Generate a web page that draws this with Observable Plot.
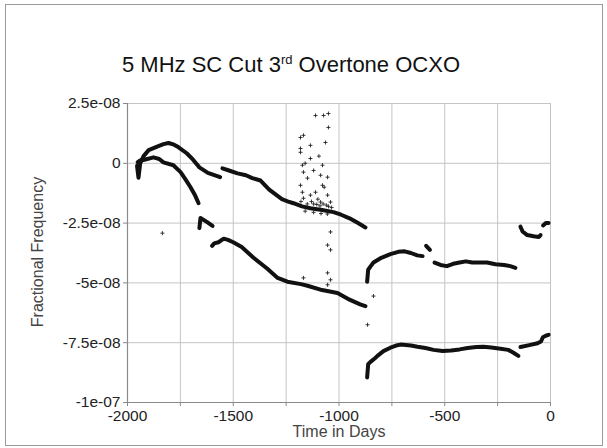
<!DOCTYPE html>
<html><head><meta charset="utf-8">
<script src="https://cdn.jsdelivr.net/npm/d3@7"></script>
<script src="https://cdn.jsdelivr.net/npm/@observablehq/plot@0.6"></script>
<style>
body{margin:0;background:#fff;font-family:"Liberation Sans",Arial,sans-serif;}
#wrap{position:relative;width:607px;height:448px;overflow:hidden;background:#fff;}
#border{position:absolute;left:5px;top:4px;width:598px;height:442px;border:1.5px solid #9a9a9a;box-sizing:border-box;}
#title{position:absolute;left:0;top:54px;width:582px;text-align:center;font-size:22px;line-height:1;color:#111;white-space:nowrap;}
#title .sup{font-size:13px;position:relative;top:-8px;}
#ylab{position:absolute;left:38px;top:252px;transform:translate(-50%,-50%) rotate(-90deg);font-size:16px;line-height:1;color:#444;white-space:nowrap;}
#xlab{position:absolute;left:339px;top:424px;transform:translateX(-50%);font-size:16px;line-height:1;color:#444;white-space:nowrap;}
#chart{position:absolute;left:0;top:90px;}
</style></head>
<body>
<div id="wrap">
  <div id="border"></div>
  <div id="title">5 MHz SC Cut 3<span class="sup">rd</span> Overtone OCXO</div>
  <div id="chart"></div>
  <div id="ylab">Fractional Frequency</div>
  <div id="xlab">Time in Days</div>
</div>
<script>
// Tick values
const xTicks = [-2000, -1750, -1500, -1250, -1000, -750, -500, -250, 0];
const yTicks = [2.5e-8, 0, -2.5e-8, -5e-8, -7.5e-8, -1e-7];

// Series segments: [day, fractional frequency in units of 1e-8]
const upperA = [[-1955,-0.1],[-1948,-0.6],[-1940,0.0],[-1924,0.3],[-1900,0.55],[-1860,0.7],[-1830,0.8],[-1806,0.85],[-1780,0.78],[-1760,0.68],[-1720,0.42],[-1690,0.15],[-1660,-0.17],[-1620,-0.4],[-1562,-0.58]];
const upperA2 = [[-1551,-0.21],[-1520,-0.3],[-1480,-0.42],[-1440,-0.5],[-1410,-0.62],[-1371,-0.72],[-1330,-1.1],[-1300,-1.3],[-1270,-1.5],[-1240,-1.6],[-1215,-1.67],[-1175,-1.8],[-1135,-1.88],[-1080,-1.95],[-1026,-2.04],[-990,-2.15],[-950,-2.3],[-910,-2.5],[-875,-2.68]];
const upperB = [[-867,-4.95],[-862,-4.45],[-850,-4.3],[-837,-4.15],[-800,-3.95],[-757,-3.8],[-720,-3.7],[-690,-3.68],[-660,-3.75],[-630,-3.85],[-605,-3.88]];
const upperC = [[-588,-3.45],[-570,-3.62]];
const upperD = [[-548,-4.15],[-520,-4.25],[-490,-4.3],[-460,-4.2],[-430,-4.15],[-400,-4.1],[-370,-4.15],[-340,-4.15],[-300,-4.15],[-260,-4.22],[-220,-4.25],[-190,-4.3],[-166,-4.37]];
const upperE = [[-142,-2.65],[-132,-2.85],[-110,-3.0],[-80,-3.05],[-55,-3.08],[-47,-3.0]];
const upperF = [[-35,-2.6],[-22,-2.5],[-9,-2.5]];
const lowerA = [[-1952,0.05],[-1940,0.12],[-1920,0.15],[-1877,0.25],[-1850,0.18],[-1830,0.04],[-1783,-0.08],[-1749,-0.37],[-1725,-0.68],[-1702,-1.0],[-1680,-1.35],[-1664,-1.67]];
const lowerB = [[-1660,-2.71],[-1655,-2.29],[-1625,-2.45],[-1598,-2.62]];
const lowerC = [[-1600,-3.45],[-1590,-3.35],[-1570,-3.3],[-1545,-3.15],[-1525,-3.2],[-1500,-3.3],[-1460,-3.5],[-1404,-3.95],[-1340,-4.4],[-1290,-4.79],[-1244,-4.95],[-1180,-5.05],[-1149,-5.12],[-1080,-5.3],[-1007,-5.42],[-950,-5.7],[-900,-5.9],[-875,-5.97]];
const lowerD = [[-867,-8.95],[-862,-8.4],[-851,-8.3],[-830,-8.15],[-818,-8.05],[-790,-7.85],[-757,-7.71],[-730,-7.62],[-709,-7.58],[-660,-7.62],[-629,-7.67],[-591,-7.72],[-553,-7.8],[-510,-7.85],[-470,-7.83],[-430,-7.78],[-392,-7.72],[-350,-7.68],[-317,-7.67],[-280,-7.7],[-236,-7.75],[-200,-7.8],[-175,-7.92],[-152,-8.05]];
const lowerE = [[-142,-7.68],[-100,-7.6],[-61,-7.52],[-45,-7.45],[-36,-7.27],[-20,-7.2],[-9,-7.17]];
// Scattered outlier readings
const outliers = [[-1111,2.0],[-1073,2.0],[-1050,2.08],[-1050,1.5],[-1168,1.17],[-1182,1.08],[-1135,0.75],[-1182,0.46],[-1064,0.87],[-1182,0.62],[-1135,0.2],[-1173,-0.08],[-1078,-0.08],[-1168,-0.37],[-1087,-0.5],[-1054,-0.58],[-1149,-0.62],[-1182,-0.92],[-1078,-0.92],[-1173,-1.21],[-1111,-1.21],[-1054,-1.33],[-1135,-1.33],[-1168,-1.46],[-1087,-1.62],[-1040,-1.62],[-1040,-2.87],[-1054,-3.42],[-1040,-3.62],[-1054,-4.58],[-1168,-4.79],[-1040,-4.87],[-1054,-5.08],[-1835,-2.92],[-837,-5.55],[-865,-6.75],[-1120,-1.7],[-1100,-1.5],[-1180,-1.6],[-1060,-1.75],[-1120,-0.3],[-1095,0.3],[-1160,0.0],[-1070,-1.0],
  [-1150,-1.7],[-1130,-1.6],[-1105,-1.72],[-1090,-1.78],[-1075,-1.7],[-1050,-1.8],[-1035,-1.85],[-1160,-2.0],[-1120,-2.05],[-1085,-2.1],[-1055,-2.12]];

const segments = {upperA, upperA2, upperB, upperC, upperD, upperE, upperF, lowerA, lowerB, lowerC, lowerD, lowerE};
const lineData = Object.entries(segments).flatMap(([seg, pts]) => pts.map(([d, v]) => ({seg, d, v: v * 1e-8})));
const outData = outliers.map(([d, v]) => ({d, v: v * 1e-8}));

function fmtY(v) {
  if (Math.abs(v) < 1e-15) return "0";
  return v.toExponential().replace(/e([+-])(\d)$/, "e$10$2");
}

const chart = Plot.plot({
  width: 607, height: 358,
  marginTop: 13, marginBottom: 46, marginLeft: 127, marginRight: 57,
  style: {fontFamily: "'Liberation Sans', Arial, sans-serif", fontSize: "15.5px", color: "#222", background: "transparent"},
  x: {domain: [-2000, 0]},
  y: {domain: [-1e-7, 2.5e-8]},
  marks: [
    Plot.gridX(xTicks, {stroke: "#c4c4c4", strokeOpacity: 1}),
    Plot.gridY(yTicks, {stroke: "#c4c4c4", strokeOpacity: 1}),
    Plot.axisX(xTicks, {tickSize: 4, tickPadding: 3, stroke: "#888", fontSize: 15.5, tickFormat: d => (d % 500 === 0 ? String(d) : ""), label: null}),
    Plot.axisY(yTicks, {tickSize: 4, tickPadding: 3, stroke: "#888", fontSize: 15.5, tickFormat: fmtY, label: null}),
    Plot.ruleX([-2000], {stroke: "#8a8a8a", strokeWidth: 1.2}),
    Plot.ruleY([-1e-7], {stroke: "#8a8a8a", strokeWidth: 1.2}),
    Plot.line(lineData, {x: "d", y: "v", z: "seg", stroke: "#111", strokeWidth: 4, strokeLinejoin: "round", strokeLinecap: "round"}),
    Plot.dot(outData, {x: "d", y: "v", symbol: "plus", r: 1.4, stroke: "#222", strokeWidth: 0.9})
  ]
});
document.getElementById("chart").appendChild(chart);
</script>
</body></html>
